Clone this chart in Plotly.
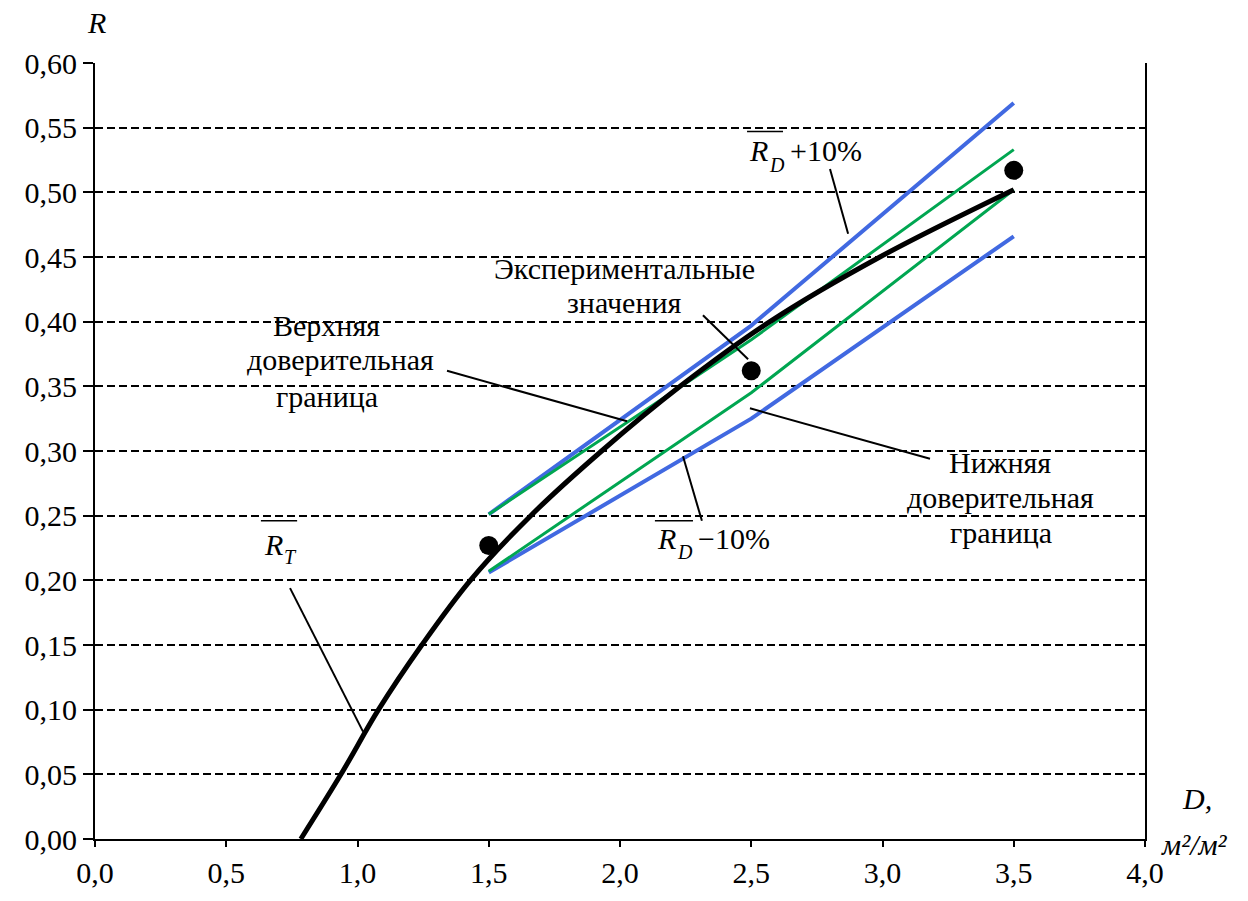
import plotly.graph_objects as go

# ---- data ----
curve_x = [0.784, 0.937, 1.08, 1.245, 1.43, 1.66, 1.93, 2.229, 2.571, 2.99, 3.5]
curve_y = [0.0, 0.05, 0.10, 0.15, 0.20, 0.25, 0.30, 0.35, 0.40, 0.45, 0.502]

band_x = [1.5, 2.5, 3.5]
rd_plus10 = [0.251, 0.397, 0.569]
rd_minus10 = [0.206, 0.325, 0.466]
upper_conf = [0.251, 0.386, 0.533]
lower_conf = [0.207, 0.345, 0.502]

exp_x = [1.5, 2.5, 3.5]
exp_y = [0.227, 0.362, 0.517]

x_ticks = [0.0, 0.5, 1.0, 1.5, 2.0, 2.5, 3.0, 3.5, 4.0]
y_ticks = [0.0, 0.05, 0.10, 0.15, 0.20, 0.25, 0.30, 0.35, 0.40, 0.45, 0.50, 0.55, 0.60]

BLUE = "#4169E1"
GREEN = "#00A651"
FONT = "Liberation Serif, DejaVu Serif, Noto Serif, Times New Roman, serif"
FS = 30
FS_SUB = 20

fig = go.Figure()
fig.add_trace(go.Scatter(x=band_x, y=rd_plus10, mode="lines", line=dict(color=BLUE, width=4)))
fig.add_trace(go.Scatter(x=band_x, y=rd_minus10, mode="lines", line=dict(color=BLUE, width=4)))
fig.add_trace(go.Scatter(x=band_x, y=upper_conf, mode="lines", line=dict(color=GREEN, width=3)))
fig.add_trace(go.Scatter(x=band_x, y=lower_conf, mode="lines", line=dict(color=GREEN, width=3)))
fig.add_trace(go.Scatter(x=curve_x, y=curve_y, mode="lines",
                         line=dict(color="black", width=5, shape="spline", smoothing=1.0)))
fig.add_trace(go.Scatter(x=exp_x, y=exp_y, mode="markers",
                         marker=dict(color="black", size=19)))

# leader lines
leaders = [
    ((2.80, 0.518), (2.869, 0.468)),
    ((2.316, 0.405), (2.488, 0.371)),
    ((1.341, 0.362), (2.027, 0.323)),
    ((2.495, 0.333), (3.181, 0.294)),
    ((2.24, 0.296), (2.312, 0.246)),
    ((0.743, 0.194), (1.021, 0.083)),
]
for (x0, y0), (x1, y1) in leaders:
    fig.add_shape(type="line", x0=x0, y0=y0, x1=x1, y1=y1, xref="x", yref="y",
                  line=dict(color="black", width=2), layer="above")

# overlines
overlines = [
    (2.484, 2.621, 0.547),
    (2.133, 2.278, 0.246),
    (0.632, 0.770, 0.246),
]
for x0, x1, y in overlines:
    fig.add_shape(type="line", x0=x0, y0=y, x1=x1, y1=y, xref="x", yref="y",
                  line=dict(color="black", width=1.5), layer="above")


def txt(x, y, text, size=FS, italic=False, xanchor="center", xref="x", yref="y"):
    fig.add_annotation(xref=xref, yref=yref, x=x, y=y, text=text, showarrow=False,
                       xanchor=xanchor, yanchor="middle",
                       font=dict(family=FONT, size=size, color="black",
                                 style="italic" if italic else "normal"))


# R_D +10%
txt(2.484, 0.532, "R", italic=True, xanchor="left")
txt(2.560, 0.521, "D", size=FS_SUB, italic=True, xanchor="left")
txt(2.640, 0.532, "+10%", xanchor="left")
# R_D −10%
txt(2.133, 0.232, "R", italic=True, xanchor="left")
txt(2.209, 0.222, "D", size=FS_SUB, italic=True, xanchor="left")
txt(2.290, 0.232, "−10%", xanchor="left")
# R_T
txt(0.636, 0.228, "R", italic=True, xanchor="left")
txt(0.712, 0.218, "T", size=FS_SUB, italic=True, xanchor="left")
# multi-line labels
txt(2.019, 0.4414, "Экспериментальные")
txt(2.019, 0.4146, "значения")
txt(0.880, 0.397, "Верхняя")
txt(0.937, 0.371, "доверительная")
txt(0.884, 0.342, "граница")
txt(3.448, 0.291, "Нижняя")
txt(3.451, 0.264, "доверительная")
txt(3.451, 0.237, "граница")

# axis titles
txt(0.0019, 1.052, "R", italic=True, xref="paper", yref="paper")
txt(1.0495, 0.0524, "D,", italic=True, xref="paper", yref="paper")
txt(1.0476, -0.0077, "м²/м²", italic=True, xref="paper", yref="paper")

fig.update_layout(
    width=1248, height=901,
    margin=dict(l=95, r=103, t=63, b=55),
    plot_bgcolor="white", paper_bgcolor="white",
    showlegend=False,
    separators=", ",
    font=dict(family=FONT, size=FS, color="black"),
)
fig.update_xaxes(
    range=[0, 4], tickvals=x_ticks, tickformat=".1f",
    showgrid=False, zeroline=False,
    showline=True, linecolor="black", linewidth=2,
    ticks="outside", ticklen=6, tickwidth=2, tickcolor="black",
    mirror=False,
)
fig.update_yaxes(
    range=[0, 0.6], tickvals=y_ticks, tickformat=".2f",
    showgrid=True, gridcolor="black", gridwidth=1.5, griddash="8px,4px",
    zeroline=False,
    showline=True, linecolor="black", linewidth=2, mirror=True,
    ticks="outside", ticklen=10, tickwidth=1.5, tickcolor="black",
)

fig.write_html("out.html")
